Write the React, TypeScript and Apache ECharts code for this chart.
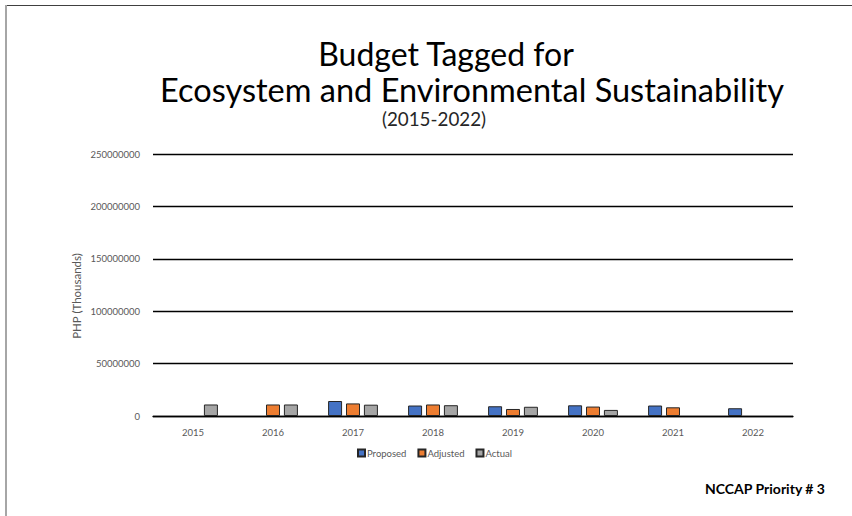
import React, { useEffect, useRef } from "react";
import * as echarts from "echarts";

const years = ["2015", "2016", "2017", "2018", "2019", "2020", "2021", "2022"];
const proposed = [null, null, 14300000, 10000000, 9300000, 10200000, 10000000, 7400000];
const adjusted = [null, 11000000, 12000000, 11000000, 6700000, 9000000, 8300000, null];
const actual = [11000000, 11000000, 10800000, 10300000, 8800000, 5800000, null, null];

const FONT = "Lato, 'Open Sans', sans-serif";

export default function App() {
  const ref = useRef<HTMLDivElement>(null);
  useEffect(() => {
    if (!ref.current) return;
    const chart = echarts.init(ref.current, undefined, { renderer: "svg" });
    const barStyle = (c: string) => ({ color: c, borderColor: "#262626", borderWidth: 1 });
    chart.setOption({
      animation: false,
      backgroundColor: "#ffffff",
      textStyle: { fontFamily: FONT },
      grid: { left: 153, right: 59, top: 154, bottom: 100 },
      legend: {
        left: 352,
        top: 443,
        itemWidth: 7,
        itemHeight: 7,
        itemGap: 11,
        icon: "rect",
        textStyle: { fontSize: 9.5, color: "#595959", fontFamily: FONT, padding: [0, 0, 0, -3] },
        data: ["Proposed", "Adjusted", "Actual"],
      },
      xAxis: {
        type: "category",
        data: years,
        axisLine: { lineStyle: { color: "#000", width: 1.3 } },
        axisTick: { show: false },
        axisLabel: { color: "#595959", fontSize: 9.5, margin: 11, fontFamily: FONT },
      },
      yAxis: {
        type: "value",
        min: 0,
        max: 250000000,
        interval: 50000000,
        axisLine: { show: false },
        axisTick: { show: false },
        splitLine: { lineStyle: { color: "#000", width: 1.3 } },
        axisLabel: {
          color: "#595959",
          fontSize: 9.5,
          margin: 13,
          fontFamily: FONT,
          formatter: (v: number) => String(v),
        },
      },
      series: [
        { name: "Proposed", type: "bar", data: proposed, barWidth: 14, barGap: "28%", itemStyle: barStyle("#4472C4") },
        { name: "Adjusted", type: "bar", data: adjusted, barWidth: 14, barGap: "28%", itemStyle: barStyle("#ED7D31") },
        { name: "Actual", type: "bar", data: actual, barWidth: 14, barGap: "28%", itemStyle: barStyle("#A5A5A5") },
      ],
      graphic: [
        { type: "line", shape: { x1: 6, y1: 5.5, x2: 852, y2: 5.5 }, style: { stroke: "#404040", lineWidth: 1.2 } },
        { type: "line", shape: { x1: 6, y1: 5, x2: 6, y2: 516 }, style: { stroke: "#a6a6a6", lineWidth: 2 } },
        {
          type: "text", x: 446, y: 53,
          style: { text: "Budget Tagged for", font: `32px ${FONT}`, lineHeight: 30, fill: "#000", align: "center", verticalAlign: "middle" },
        },
        {
          type: "text", x: 472, y: 89,
          style: { text: "Ecosystem and Environmental Sustainability", font: `32.5px ${FONT}`, lineHeight: 30, fill: "#000", align: "center", verticalAlign: "middle" },
        },
        {
          type: "text", x: 434, y: 118,
          style: { text: "(2015-2022)", font: `18.8px ${FONT}`, lineHeight: 20, fill: "#262626", align: "center", verticalAlign: "middle" },
        },
        {
          type: "text", x: 76, y: 296, rotation: Math.PI / 2,
          style: { text: "PHP (Thousands)", font: `11.5px ${FONT}`, fill: "#595959", align: "center", verticalAlign: "middle" },
        },
        {
          type: "text", x: 765, y: 488,
          style: { text: "NCCAP Priority # 3", font: `bold 14px ${FONT}`, fill: "#000", align: "center", verticalAlign: "middle" },
        },
      ],
    });
    return () => chart.dispose();
  }, []);
  return <div ref={ref} style={{ width: 852, height: 516, position: "fixed", left: 0, top: 0 }} />;
}
